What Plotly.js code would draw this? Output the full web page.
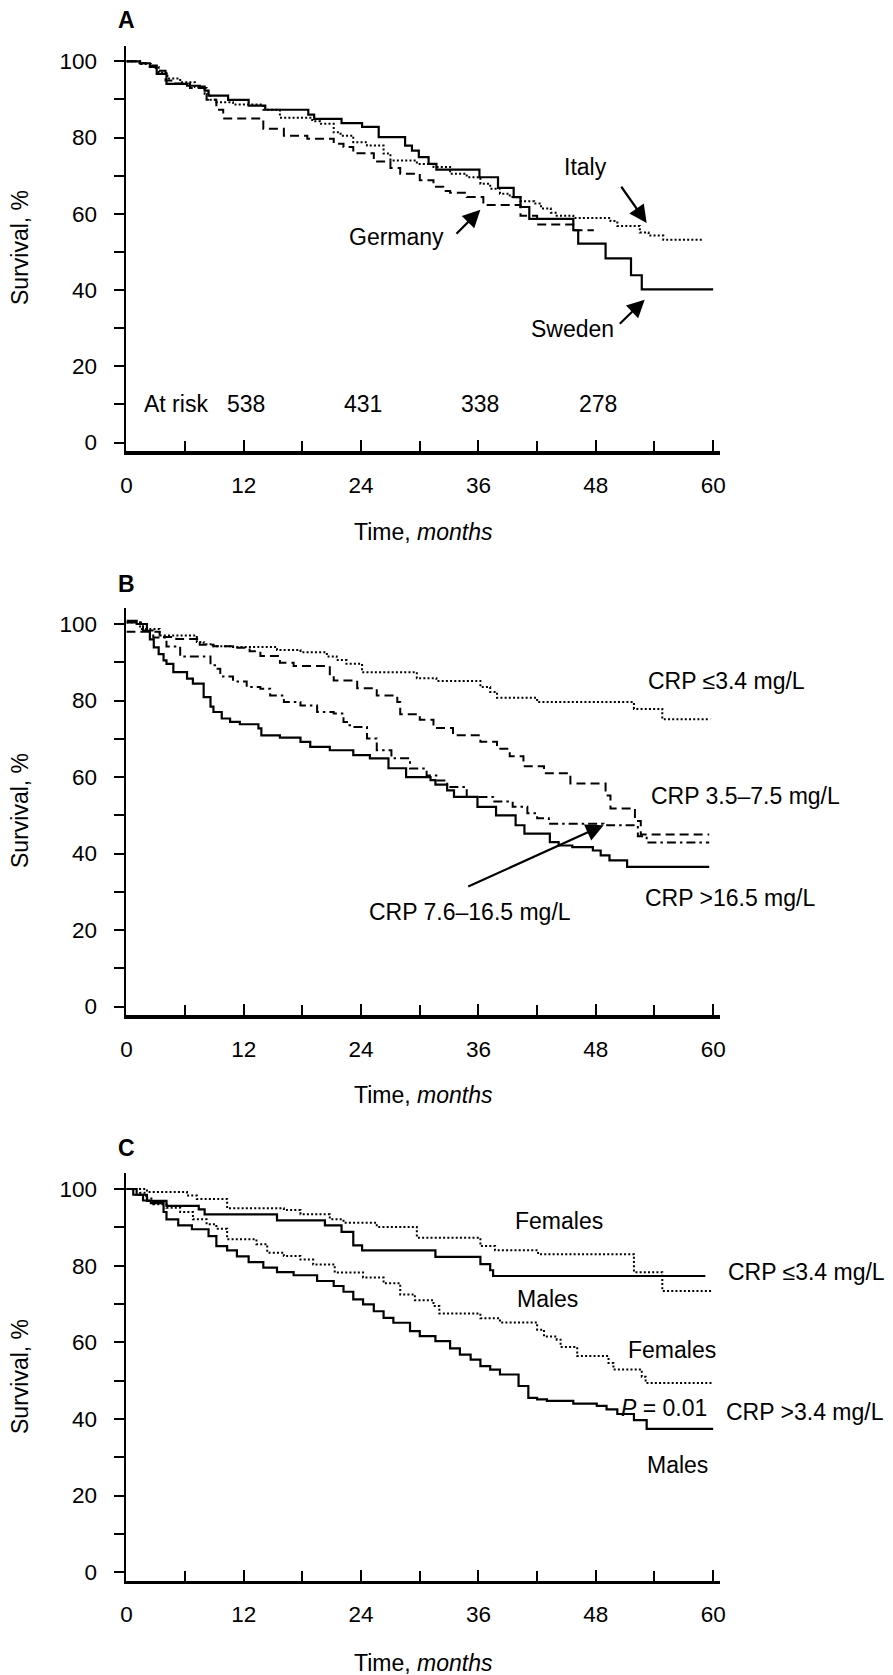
<!DOCTYPE html>
<html>
<head>
<meta charset="utf-8">
<script src="https://cdn.plot.ly/plotly-3.0.1.min.js"></script>
<style>html,body{margin:0;padding:0;background:#fff;}#chart{width:893px;height:1675px;}</style>
</head>
<body>
<div id="chart"></div>
<script>
// ---------- Panel A: country ----------
const aSwedenT = [0, 1.4, 2.4, 3.1, 4.1, 6.2, 7.5, 8.0, 8.4, 10.4, 12.5, 14.2, 18.6, 19.2, 22.0, 24.1, 25.8, 28.5, 29.2, 29.9, 30.9, 31.7, 36.1, 38.0, 39.6, 40.3, 41.2, 45.7, 46.2, 49.0, 51.6, 52.7, 60];
const aSwedenS = [100, 99.5, 98.9, 96.7, 94.1, 93.6, 93.4, 92.3, 91.0, 89.9, 88.4, 87.3, 86.0, 84.9, 83.8, 82.8, 80.1, 77.9, 76.6, 74.9, 73.1, 71.6, 69.6, 66.8, 64.4, 61.8, 58.7, 55.7, 52.2, 48.3, 43.9, 40.2, 40.2];
const aItalyT = [0, 1.5, 2.5, 3.3, 4.2, 5.5, 7.0, 8.0, 8.6, 9.2, 10.9, 14.0, 15.7, 19.0, 19.8, 21.2, 21.9, 23.2, 24.6, 26.3, 27.0, 29.7, 31.4, 33.1, 34.8, 36.2, 37.2, 38.2, 39.2, 40.3, 41.7, 42.4, 43.4, 44.0, 45.7, 49.5, 50.2, 52.5, 53.4, 54.9, 59.0];
const aItalyS = [100, 99.3, 98.5, 97.0, 95.5, 94.5, 93.3, 91.5, 89.9, 89.3, 88.7, 87.3, 85.2, 84.3, 83.6, 81.4, 80.5, 78.8, 77.9, 75.8, 74.0, 73.1, 72.3, 70.5, 69.6, 67.9, 66.6, 65.3, 64.4, 63.3, 62.7, 61.4, 60.3, 59.5, 58.9, 58.1, 56.8, 55.1, 54.3, 53.2, 53.2];
const aGermanyT = [0, 1.2, 2.2, 3.0, 4.0, 5.0, 6.5, 8.2, 9.2, 9.9, 14.0, 16.1, 18.5, 21.2, 22.2, 23.2, 25.3, 27.0, 28.0, 30.0, 31.4, 32.4, 33.1, 34.8, 36.5, 40.3, 42.0, 45.7, 47.8];
const aGermanyS = [100, 99.5, 98.5, 97.5, 95.0, 94.2, 93.0, 89.9, 87.3, 85.0, 82.3, 80.5, 79.7, 78.4, 77.5, 75.9, 73.7, 72.0, 70.5, 68.8, 67.1, 66.0, 65.5, 64.4, 62.3, 59.5, 57.2, 55.7, 55.7];
const atRiskMonths = [12, 24, 36, 48];
const atRiskCounts = ['538', '431', '338', '278'];

// ---------- Panel B: CRP quartiles ----------
const bLowT = [0, 1.4, 3.4, 7.2, 7.9, 8.9, 10.9, 15.4, 17.8, 20.5, 21.5, 22.5, 24.1, 29.7, 31.7, 36.2, 37.2, 37.9, 42.0, 51.9, 54.8, 59.7];
const bLowS = [100.4, 98.7, 97.0, 95.3, 94.7, 94.2, 94.0, 93.2, 92.6, 91.5, 90.6, 89.6, 87.4, 85.8, 85.1, 83.5, 82.2, 80.7, 79.6, 77.8, 75.1, 75.1];
const bMidT = [0, 3.4, 5.1, 7.5, 8.9, 10.9, 12.6, 13.7, 15.7, 17.1, 20.8, 21.2, 23.6, 25.6, 27.7, 28.0, 30.0, 31.4, 33.4, 36.2, 37.9, 39.2, 40.6, 42.7, 45.4, 49.0, 49.5, 52.0, 52.6, 59.6];
const bMidS = [98.0, 96.6, 96.1, 94.6, 94.2, 93.8, 92.9, 91.6, 89.9, 89.0, 86.4, 85.2, 83.2, 81.3, 79.6, 76.4, 75.0, 72.8, 70.9, 69.2, 67.4, 65.4, 62.8, 61.0, 58.3, 55.2, 51.8, 48.5, 45.0, 45.0];
const bUpperMidT = [0, 1.7, 2.75, 4.1, 5.5, 8.6, 9.2, 9.6, 10.9, 12.3, 13.7, 14.7, 16.1, 17.8, 19.5, 21.2, 22.2, 22.7, 23.2, 24.6, 25.6, 27.1, 29.0, 30.7, 31.8, 32.8, 34.8, 37.5, 39.5, 41.0, 42.0, 43.2, 48.8, 52.3, 53.2, 59.6];
const bUpperMidS = [100.4, 98.3, 96.5, 94.1, 91.5, 89.2, 88.3, 86.3, 85.0, 83.5, 83.1, 81.3, 79.6, 78.7, 77.0, 76.6, 74.4, 73.5, 73.1, 70.1, 67.0, 64.9, 62.2, 60.4, 59.1, 57.4, 54.8, 53.6, 52.2, 50.5, 49.2, 47.8, 47.4, 44.5, 42.9, 42.9];
const bHighT = [0, 1.05, 2.1, 2.4, 2.8, 3.3, 3.8, 4.1, 4.8, 6.2, 6.8, 7.9, 8.6, 8.9, 9.75, 10.6, 11.6, 13.5, 13.8, 15.7, 17.8, 18.8, 20.8, 23.2, 24.9, 26.8, 28.6, 31.1, 31.6, 32.8, 33.5, 35.9, 37.8, 39.8, 40.7, 43.3, 44.2, 45.6, 47.7, 48.5, 49.4, 51.2, 59.6];
const bHighS = [100.8, 100.0, 98.2, 96.0, 93.9, 92.1, 90.5, 89.6, 87.4, 85.7, 84.4, 80.9, 78.4, 77.0, 75.3, 74.4, 73.8, 72.7, 70.9, 70.3, 69.2, 67.9, 67.0, 65.7, 64.9, 62.3, 60.0, 59.2, 58.0, 56.5, 54.8, 52.2, 50.0, 47.4, 45.2, 43.0, 42.1, 41.7, 40.8, 39.5, 38.2, 36.5, 36.5];

// ---------- Panel C: CRP by sex ----------
const cLowFemT = [0, 2.1, 6.2, 7.2, 10.3, 16.1, 17.8, 20.8, 22.2, 25.6, 29.7, 36.2, 37.7, 42.1, 51.9, 54.8, 59.9];
const cLowFemS = [100, 99.2, 98.3, 97.4, 95.0, 94.5, 93.4, 92.1, 91.2, 90.1, 87.3, 85.1, 84.0, 83.0, 78.3, 73.4, 73.4];
const cLowMaleT = [0, 1.05, 2.1, 4.1, 7.4, 8.0, 15.4, 20.3, 22.0, 23.2, 24.1, 31.6, 36.2, 37.2, 37.5, 59.2];
const cLowMaleS = [100, 98.5, 96.9, 95.6, 94.7, 93.4, 91.8, 90.5, 88.8, 85.3, 84.0, 82.3, 80.4, 78.8, 77.3, 77.3];
const cHighFemT = [0, 1.4, 2.0, 2.75, 4.1, 5.5, 6.8, 8.2, 9.2, 10.3, 13.3, 14.4, 16.1, 17.8, 19.1, 21.3, 24.2, 26.3, 28.0, 29.5, 31.4, 32.0, 36.2, 38.2, 42.0, 42.7, 44.0, 44.4, 46.1, 49.3, 49.8, 52.7, 53.1, 60.0];
const cHighFemS = [100, 99.0, 97.5, 96.0, 95.1, 94.0, 92.1, 90.8, 89.6, 86.9, 85.6, 83.4, 82.5, 81.6, 80.3, 78.2, 76.9, 75.4, 72.5, 71.0, 69.5, 67.5, 66.3, 65.2, 63.3, 61.5, 60.7, 58.8, 56.4, 54.6, 52.9, 51.0, 49.4, 49.4];
const cHighMaleT = [0, 0.7, 1.7, 2.5, 3.8, 4.1, 5.3, 6.7, 8.4, 9.2, 10.3, 11.3, 12.5, 14.0, 15.4, 17.1, 19.5, 21.2, 22.2, 23.2, 24.2, 25.3, 26.3, 27.3, 29.0, 30.0, 31.6, 33.1, 34.1, 35.2, 36.2, 37.2, 38.2, 40.1, 41.1, 42.0, 43.0, 45.7, 48.1, 49.1, 50.2, 51.9, 53.2, 60.0];
const cHighMaleS = [100, 98.5, 97.0, 96.3, 94.0, 92.1, 90.5, 89.5, 87.7, 85.1, 84.0, 82.4, 80.9, 79.5, 78.3, 77.5, 76.0, 74.7, 73.2, 71.2, 69.9, 68.1, 66.4, 65.1, 62.9, 61.6, 60.3, 58.4, 56.8, 55.5, 53.8, 52.9, 51.6, 48.6, 45.5, 45.1, 44.7, 44.0, 43.4, 42.5, 41.3, 39.7, 37.4, 37.4];

const panelLabels = ['A', 'B', 'C'];
const xTitle = 'Time, <i>months</i>';
const yTitle = 'Survival, %';

// ---------- styling ----------
const FONT = '"Liberation Sans", Arial, Helvetica, sans-serif';
const FS = 23;
const SOLID = 'solid', DOT = '2px,2.2px', DASH = '9px,5px', DASHDOT = '9px,4px,2.5px,4px';

function step(x, y, dash, xa, ya, w) {
  return {x: x, y: y, type: 'scatter', mode: 'lines', xaxis: xa, yaxis: ya,
    line: {shape: 'hv', color: '#000', width: w || 2, dash: dash}, hoverinfo: 'skip'};
}

const traces = [
  step(aItalyT, aItalyS, DOT, 'x', 'y', 2),
  step(aGermanyT, aGermanyS, DASH, 'x', 'y', 2),
  step(aSwedenT, aSwedenS, SOLID, 'x', 'y', 2.2),
  step(bLowT, bLowS, DOT, 'x2', 'y2', 2),
  step(bMidT, bMidS, DASH, 'x2', 'y2', 2),
  step(bUpperMidT, bUpperMidS, DASHDOT, 'x2', 'y2', 2),
  step(bHighT, bHighS, SOLID, 'x2', 'y2', 2.2),
  step(cLowFemT, cLowFemS, DOT, 'x3', 'y3', 2),
  step(cLowMaleT, cLowMaleS, SOLID, 'x3', 'y3', 2.2),
  step(cHighFemT, cHighFemS, DOT, 'x3', 'y3', 2),
  step(cHighMaleT, cHighMaleS, SOLID, 'x3', 'y3', 2.2)
];

const XDOM = [126.4 / 893, 720 / 893];
function xAx(anchor) {
  return {domain: XDOM, range: [0, 60.7], anchor: anchor, tickmode: 'linear', tick0: 0, dtick: 12,
    ticks: 'inside', ticklen: 11, tickwidth: 2, tickcolor: '#000',
    minor: {tickmode: 'linear', tick0: 0, dtick: 6, ticks: 'inside', ticklen: 10, tickwidth: 2, tickcolor: '#000'},
    showline: true, linewidth: 3.5, linecolor: '#000', showgrid: false, zeroline: false,
    tickfont: {family: FONT, size: 22.5, color: '#000'}, ticklabelstandoff: 11, fixedrange: true};
}
function yAx(top, bottom, anchor) {
  return {domain: [1 - bottom / 1675, 1 - top / 1675], range: [-2.2, 104.1], anchor: anchor,
    tickmode: 'linear', tick0: 0, dtick: 20,
    ticks: 'outside', ticklen: 10, tickwidth: 2, tickcolor: '#000',
    minor: {tickmode: 'linear', tick0: 0, dtick: 10, ticks: 'outside', ticklen: 10, tickwidth: 2, tickcolor: '#000'},
    showline: true, linewidth: 2.8, linecolor: '#000', showgrid: false, zeroline: false,
    tickfont: {family: FONT, size: 22.5, color: '#000'}, ticklabelstandoff: 12, fixedrange: true};
}

const txt = (text, x, y, xr, yr, xanchor, extra) => Object.assign({text: text, x: x, y: y, xref: xr, yref: yr,
  xanchor: xanchor || 'center', yanchor: 'middle', showarrow: false,
  font: {family: FONT, size: FS, color: '#000'}}, extra || {});
const arrow = (x, y, ax, ay, xr, yr) => ({text: '', x: x, y: y, ax: ax, ay: ay, xref: xr, yref: yr, axref: xr, ayref: yr,
  showarrow: true, arrowhead: 2, arrowsize: 1.6, arrowwidth: 2.2, arrowcolor: '#000', standoff: 0, startstandoff: 0});

const panelTops = [20, 584, 1147.5];
const xTitleY = [532, 1095, 1663];
const yTitleY = [248, 811, 1377];

const annotations = [];
panelLabels.forEach((lab, i) => {
  annotations.push(txt('<b>' + lab + '</b>', 126.5 / 893, 1 - panelTops[i] / 1675, 'paper', 'paper', 'center', {font: {family: FONT, size: 23, color: '#000'}}));
  annotations.push(txt(xTitle, 423 / 893, 1 - xTitleY[i] / 1675, 'paper', 'paper'));
  annotations.push(txt(yTitle, 20 / 893, 1 - yTitleY[i] / 1675, 'paper', 'paper', 'center', {textangle: -90}));
});

// Panel A labels
annotations.push(txt('Italy', 46.9, 72.3, 'x', 'y'));
annotations.push(txt('Germany', 27.65, 53.9, 'x', 'y'));
annotations.push(txt('Sweden', 45.6, 29.8, 'x', 'y'));
annotations.push(arrow(53.2, 57.6, 50.5, 67.5, 'x', 'y'));
annotations.push(arrow(36.2, 61.1, 33.6, 54.4, 'x', 'y'));
annotations.push(arrow(53.0, 37.5, 50.3, 30.8, 'x', 'y'));
annotations.push(txt('At risk', 5.1, 10, 'x', 'y'));
atRiskMonths.forEach((m, i) => annotations.push(txt(atRiskCounts[i], m + 0.2, 10, 'x', 'y')));

// Panel B labels
annotations.push(txt('CRP \u22643.4 mg/L', 646 / 893, 85.2, 'paper', 'y2', 'left'));
annotations.push(txt('CRP 3.5\u20137.5 mg/L', 649 / 893, 55.0, 'paper', 'y2', 'left'));
annotations.push(txt('CRP >16.5 mg/L', 643 / 893, 28.4, 'paper', 'y2', 'left'));
annotations.push(txt('CRP 7.6\u201316.5 mg/L', 35.1, 24.7, 'x2', 'y2'));
annotations.push(arrow(48.8, 47.4, 34.8, 31.2, 'x2', 'y2'));

// Panel C labels
annotations.push(txt('Females', 44.2, 91.7, 'x3', 'y3'));
annotations.push(txt('Males', 43.1, 71.2, 'x3', 'y3'));
annotations.push(txt('Females', 55.8, 57.9, 'x3', 'y3'));
annotations.push(txt('<i>P</i> = 0.01', 55.0, 42.9, 'x3', 'y3'));
annotations.push(txt('Males', 56.4, 28.1, 'x3', 'y3'));
annotations.push(txt('CRP \u22643.4 mg/L', 726 / 893, 78.3, 'paper', 'y3', 'left'));
annotations.push(txt('CRP >3.4 mg/L', 724 / 893, 41.7, 'paper', 'y3', 'left'));

const layout = {
  width: 893, height: 1675, margin: {l: 0, r: 0, t: 0, b: 0},
  paper_bgcolor: '#fff', plot_bgcolor: '#fff', showlegend: false,
  font: {family: FONT, size: FS, color: '#000'},
  xaxis: xAx('y'), yaxis: yAx(45.7, 451, 'x'),
  xaxis2: xAx('y2'), yaxis2: yAx(608.3, 1015, 'x2'),
  xaxis3: xAx('y3'), yaxis3: yAx(1173.3, 1580.7, 'x3'),
  annotations: annotations
};

Plotly.newPlot('chart', traces, layout, {staticPlot: true, displayModeBar: false});
</script>
</body>
</html>
